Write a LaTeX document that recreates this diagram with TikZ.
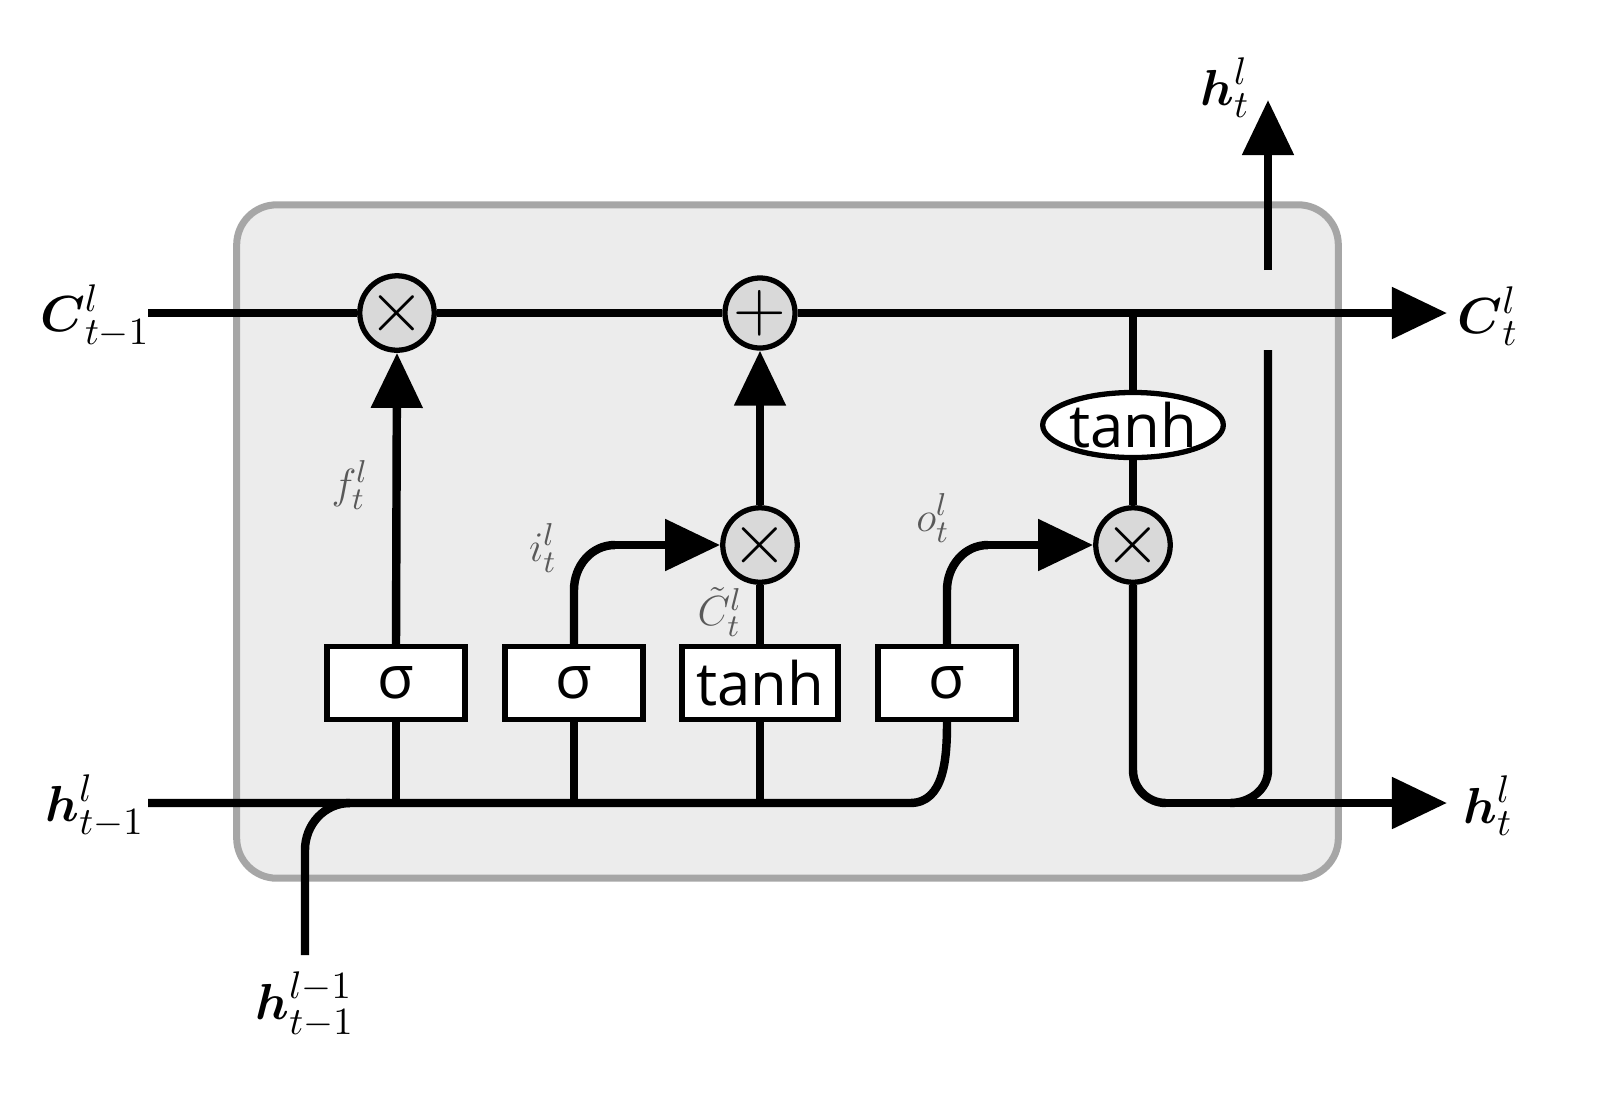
\documentclass[tikz,border=0pt]{standalone}
\usepackage{fontspec}
\usepackage{amsmath}
\newfontfamily\gatefont{Open Sans}
\usetikzlibrary{arrows.meta,shapes.geometric}
\begin{document}
\begin{tikzpicture}[x=0.01cm,y=-0.01cm,
  ln/.style={line width=2.4pt,line join=round},
  arr/.style={ln,-{Triangle[length=0.55cm,width=0.5cm]}},
  op/.style={circle,draw,line width=1.5pt,fill=gray!30,minimum size=0.7cm,inner sep=0pt,font=\fontsize{20}{20}\selectfont},
  gate/.style={rectangle,draw,line width=1.5pt,fill=white,minimum width=1.38cm,minimum height=0.73cm,inner sep=0pt,font=\gatefont\fontsize{17}{17}\selectfont},
  lab/.style={font=\fontsize{13}{13}\selectfont,text=gray!70!black},
  blab/.style={font=\fontsize{15}{15}\selectfont}]
\useasboundingbox (0,0) rectangle (1602,1096);
\node[draw=gray!70,line width=2pt,fill=gray!15,rounded corners=0.4cm,minimum width=11.01cm,minimum height=6.73cm] (cell) at (787.5,541.5) {};
% operators
\node[op] (m1) at (397,313) {$\times$};
\node[op] (p1) at (760,313) {$+$};
\node[op] (m2) at (760,545) {$\times$};
\node[op] (m3) at (1133,545) {$\times$};
\node[ellipse,draw,line width=1.5pt,fill=white,minimum width=1.6cm,minimum height=0.62cm,inner sep=0pt,font=\gatefont\fontsize{17}{17}\selectfont] (th2) at (1133,425) {tanh};
\node[gate] (g1) at (396,683) {σ};
\node[gate] (g2) at (574,683) {σ};
\node[gate,minimum width=1.56cm] (g3) at (760,683) {tanh};
\node[gate] (g4) at (947,683) {σ};
% coordinates
\coordinate (cin) at (148,313);
\coordinate (cout) at (1447,313);
\coordinate (hin) at (148,803);
\coordinate (hout) at (1447,803);
\coordinate (hbot) at (305,955);
\coordinate (htop) at (1268,100);
\coordinate (cj) at (1133,313);
% cell state line
\draw[ln] (cin) -- (m1) -- (p1);
\draw[arr] (p1) -- (cout);
% h line
\draw[ln] (hin) -- (910,803) to[out=0,in=-90] (g4.south);
\draw[ln] (hbot) -- (305,850) to[out=90,in=180] (350,803);
\draw[ln] (396,803) -- (g1.south);
\draw[ln] (574,803) -- (g2.south);
\draw[ln] (760,803) -- (g3.south);
% gates up
\draw[arr] (g1.north) -- (m1.south);
\draw[ln] (g2.north) -- (574,590) to[out=90,in=180] (615,545);
\draw[arr] (615,545) -- (m2.west);
\draw[ln] (g3.north) -- (m2.south);
\draw[arr] (m2.north) -- (p1.south);
\draw[ln] (g4.north) -- (947,590) to[out=90,in=180] (988,545);
\draw[arr] (988,545) -- (m3.west);
% output path
\draw[ln] (cj) -- (th2.north);
\draw[ln] (th2.south) -- (m3.north);
\draw[ln] (m3.south) -- (1133,770) to[out=-90,in=180] (1166,803);
\draw[arr] (1166,803) -- (hout);
\draw[ln] (1230,803) to[out=0,in=-90] (1268,770) -- (1268,350);
\draw[arr] (1268,270) -- (htop);
% labels
\node[blab] (l1) at (95,316) {$\boldsymbol{C}^{l}_{t-1}$};
\node[blab] (l2) at (1488,316) {$\boldsymbol{C}^{l}_{t}$};
\node[blab] (l3) at (95,806) {$\boldsymbol{h}^{l}_{t-1}$};
\node[blab] (l4) at (1488,806) {$\boldsymbol{h}^{l}_{t}$};
\node[blab] (l5) at (1225,88) {$\boldsymbol{h}^{l}_{t}$};
\node[blab] (l6) at (305,1005) {$\boldsymbol{h}^{l-1}_{t-1}$};
\node[lab] (f) at (350,485) {$f^{l}_{t}$};
\node[lab] (i) at (543,548) {$i^{l}_{t}$};
\node[lab] (ct) at (720,612) {$\tilde{C}^{l}_{t}$};
\node[lab] (o) at (933,518) {$o^{l}_{t}$};
\end{tikzpicture}
\end{document}
